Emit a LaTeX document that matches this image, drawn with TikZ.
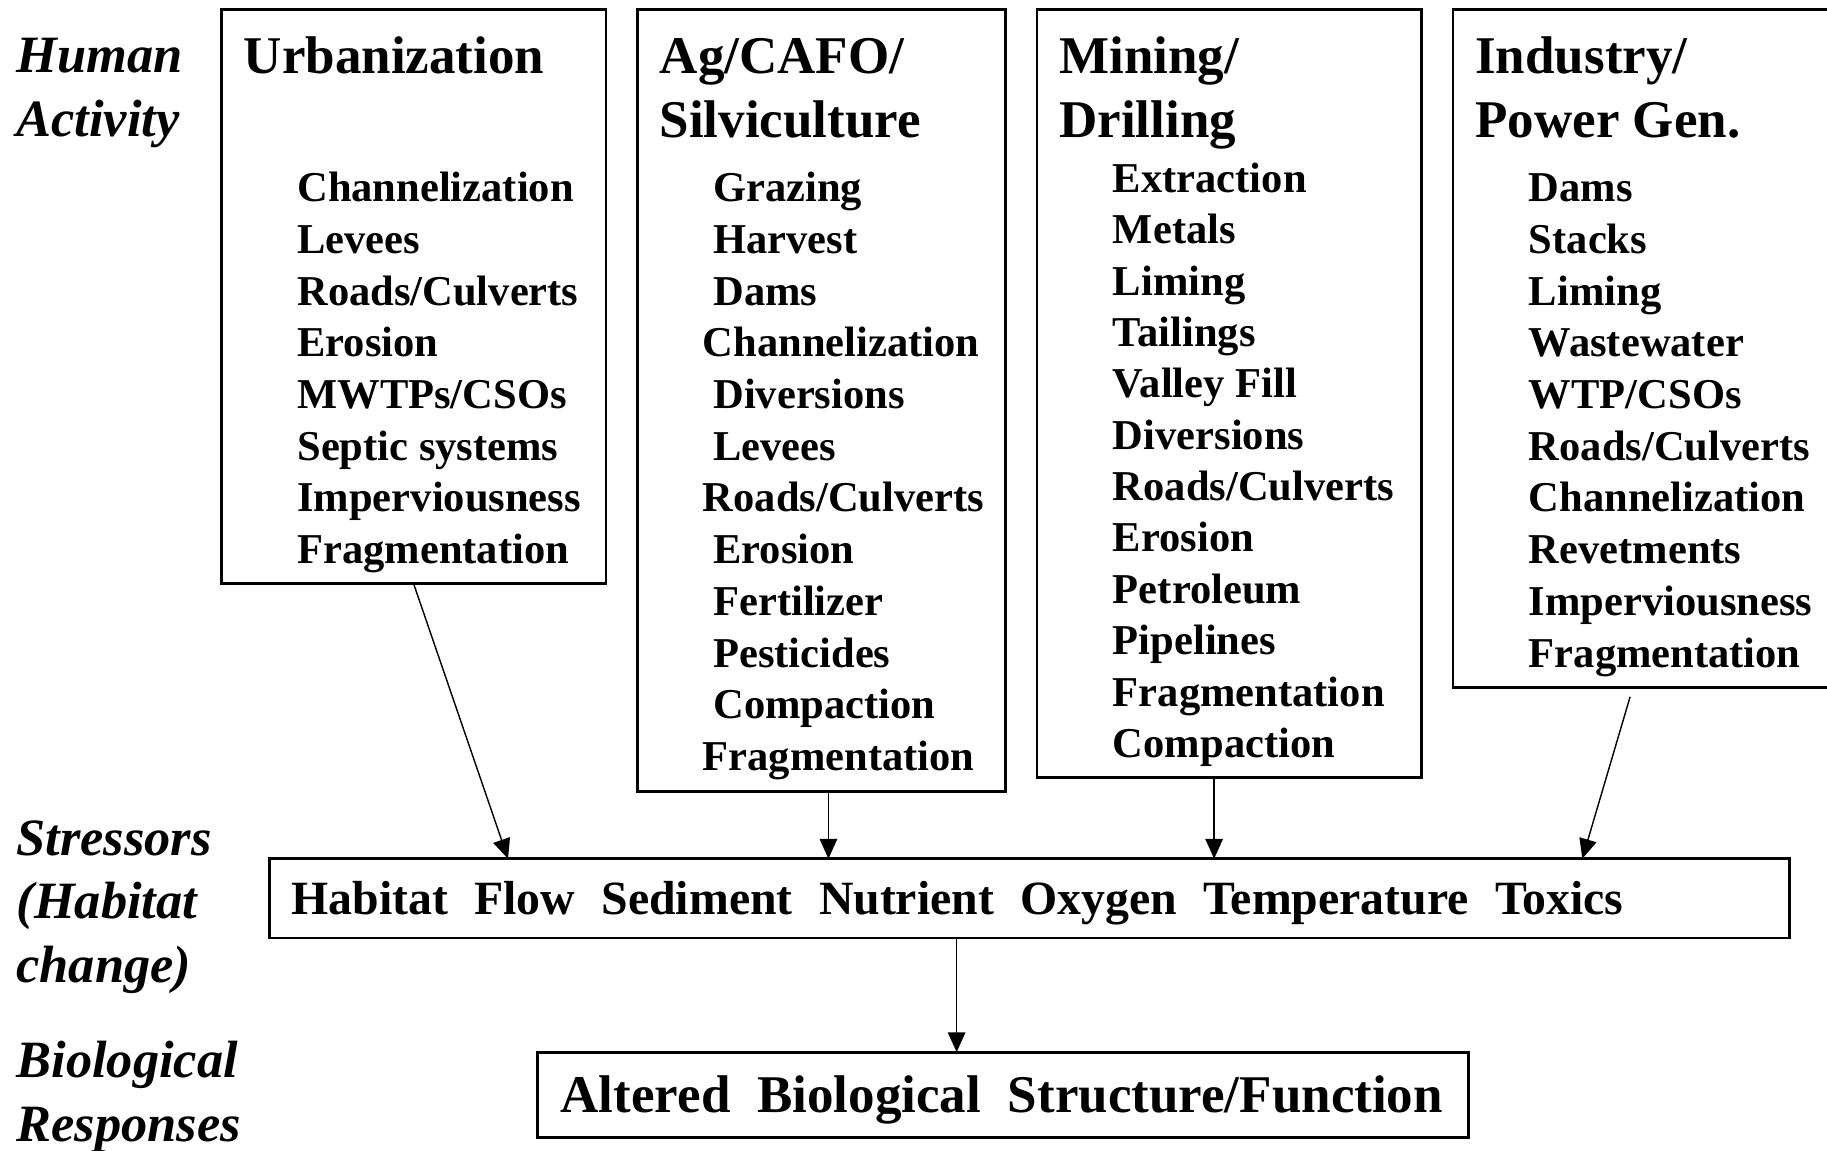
\documentclass[tikz,border=0pt]{standalone}
\usepackage{fontspec}
\setmainfont{Liberation Serif}
\usetikzlibrary{arrows.meta}
\newcommand{\wgap}{\hspace{22.6pt}}
\newcommand{\bgap}{\hspace{23pt}}

\begin{document}
\begin{tikzpicture}[x=1pt,y=-1pt,
  actbox/.style={draw, line width=2.4pt, anchor=north west, inner sep=0pt, outer sep=0pt},
  head/.style={anchor=base west, inner sep=0pt, font=\fontsize{45.5}{50}\selectfont\bfseries},
  item/.style={anchor=base west, inner sep=0pt, font=\fontsize{36.5}{40}\selectfont\bfseries},
  level/.style={anchor=base west, inner sep=0pt, font=\fontsize{45}{50}\selectfont\bfseries\itshape},
  flow/.style={-{Triangle[length=17pt,width=15pt]}, line width=1.2pt}]

 \useasboundingbox (0,0) rectangle (1568,987);

 % levels on the left
 \node[level] (human) at (14,62) {Human};
 \node[level] (activity) at (14,117) {Activity};
 \node[level] (stressors) at (14,734) {Stressors};
 \node[level] (habitat) at (14,788) {(Habitat};
 \node[level] (change) at (14,843) {change)};
 \node[level] (biological) at (14,925) {Biological};
 \node[level] (responses) at (14,980) {Responses};

 % human activity boxes
 \node[actbox, minimum width=330pt, minimum height=493pt] (urban) at (190,8) {};
 \node[actbox, minimum width=316pt, minimum height=671pt] (agri) at (547,8) {};
 \node[actbox, minimum width=330pt, minimum height=659pt] (mining) at (890,8) {};
 \begin{scope}
  \clip (0,0) rectangle (1568,987);
  \node[actbox, minimum width=343pt, minimum height=582pt] (industry) at (1247,8) {};
 \end{scope}

 \node[head] (urbtitle) at (209,63) {Urbanization};
 \foreach \t [count=\i from 0] in {Channelization,Levees,Roads/Culverts,Erosion,MWTPs/CSOs,Septic systems,Imperviousness,Fragmentation}
   \node[item] (urb\i) at (255,{173+44.4*\i}) {\t};

 \node[head] (agrititle) at (566,63) {Ag/CAFO/};
 \node[head] (agrititleb) at (566,118) {Silviculture};
 \foreach \dx/\t [count=\i from 0] in {9/Grazing,9/Harvest,9/Dams,0/Channelization,9/Diversions,9/Levees,0/{Roads/Culverts},9/Erosion,9/Fertilizer,9/Pesticides,9/Compaction,0/Fragmentation}
   \node[item] (agri\i) at ({603+\dx},{173+44.4*\i}) {\t};

 \node[head] (mintitle) at (909,63) {Mining/};
 \node[head] (mintitleb) at (909,118) {Drilling};
 \foreach \t [count=\i from 0] in {Extraction,Metals,Liming,Tailings,Valley Fill,Diversions,Roads/Culverts,Erosion,Petroleum,Pipelines,Fragmentation,Compaction}
   \node[item] (min\i) at (955,{165+44.1*\i}) {\t};

 \node[head] (indtitle) at (1266,63) {Industry/};
 \node[head] (indtitleb) at (1266,118) {Power Gen.};
 \foreach \t [count=\i from 0] in {Dams,Stacks,Liming,Wastewater,WTP/CSOs,Roads/Culverts,Channelization,Revetments,Imperviousness,Fragmentation}
   \node[item] (ind\i) at (1312,{173+44.4*\i}) {\t};

 % stressors and responses
 \node[actbox, minimum width=1305pt, minimum height=68pt] (stress) at (231,737) {};
 \node[anchor=base west, inner sep=0pt, font=\fontsize{41}{45}\selectfont\bfseries] (stresstext) at (250,785)
   {Habitat\wgap Flow\wgap Sediment\wgap Nutrient\wgap Oxygen\wgap Temperature\wgap Toxics};
 \node[actbox, minimum width=799pt, minimum height=73pt] (bio) at (461,903) {};
 \node[head] (biotext) at (481,955) {Altered\bgap Biological\bgap Structure/Function};

 % arrows
 \coordinate (a1) at ([xshift=205pt]stress.north west);
 \draw[flow] (urban.south) -- (a1);
 \coordinate (a2) at ([xshift=164pt]agri.south west);
 \draw[flow] (a2) -- (a2 |- stress.north);
 \coordinate (a3) at ([xshift=152pt]mining.south west);
 \draw[flow] (a3) -- (a3 |- stress.north);
 \coordinate (a4) at ([xshift=152pt,yshift=-8pt]industry.south west);
 \coordinate (a4end) at ([xshift=1127pt]stress.north west);
 \draw[flow] (a4) -- (a4end);
 \coordinate (a5) at ([xshift=590pt]stress.south west);
 \draw[flow] (a5) -- (a5 |- bio.north);

\end{tikzpicture}
\end{document}
